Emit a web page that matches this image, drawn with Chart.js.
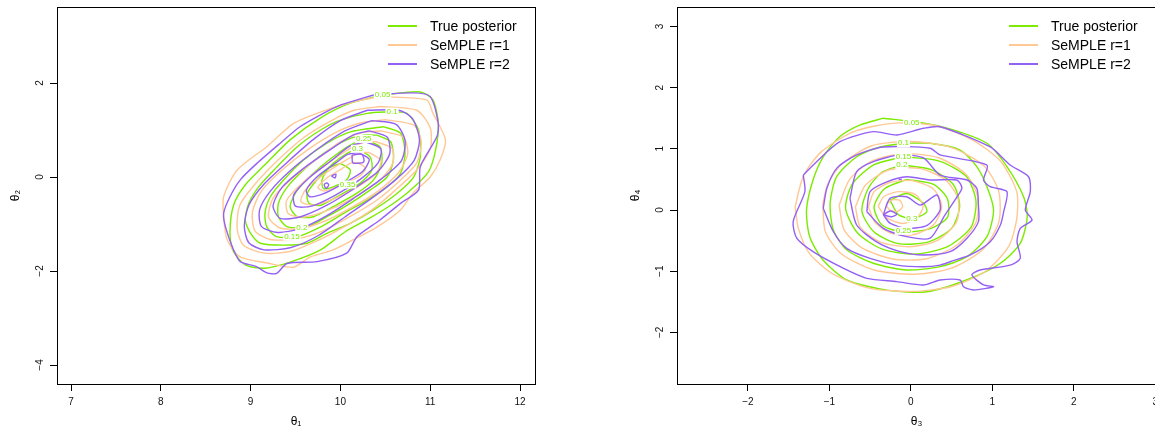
<!DOCTYPE html>
<html>
<head>
<meta charset="utf-8">
<script src="https://cdn.jsdelivr.net/npm/chart.js@4.4.1/dist/chart.umd.min.js"></script>
<style>
html, body { margin: 0; padding: 0; background: #fff; overflow: hidden; width: 1155px; height: 434px; }
.panel { position: absolute; top: 0; height: 434px; }
#left { left: 0; width: 577px; }
#right { left: 620px; width: 578px; }
</style>
</head>
<body>
<div class="panel" id="left"><canvas id="c1"></canvas></div>
<div class="panel" id="right"><canvas id="c2"></canvas></div>
<script>
// legend entries
const methodNames = ['True posterior', 'SeMPLE r=1', 'SeMPLE r=2'];
const methodColors = ['#7CEB00', '#FFC894', '#9461F5'];

// axis ticks
const leftXTicks = [7, 8, 9, 10, 11, 12];
const leftXLabels = ['7', '8', '9', '10', '11', '12'];
const leftYTicks = [-4, -2, 0, 2];
const leftYLabels = ['\u22124', '\u22122', '0', '2'];
const rightXTicks = [-2, -1, 0, 1, 2, 3];
const rightXLabels = ['\u22122', '\u22121', '0', '1', '2', '3'];
const rightYTicks = [-2, -1, 0, 1, 2, 3];
const rightYLabels = ['\u22122', '\u22121', '0', '1', '2', '3'];

// contour rings, flat [x, y, x, y, ...] lists, outer level first
const leftTrue = [
  [10.47,1.745, 10.89,1.81, 11.03,1.64, 11.09,1.15, 11.06,0.57, 10.98,0.11, 10.78,-0.28, 10.56,-0.60, 10.33,-0.87, 10.05,-1.17, 9.78,-1.55, 9.44,-1.81, 9.16,-1.94, 8.94,-1.87, 8.80,-1.55, 8.77,-1.17, 8.81,-0.60, 8.94,-0.17, 9.16,0.26, 9.44,0.79, 9.78,1.26, 10.11,1.57],
  [10.575,1.39, 10.74,1.355, 10.87,1.0, 10.89,0.43, 10.815,0.0, 10.63,-0.35, 10.37,-0.70, 10.11,-0.985, 9.85,-1.20, 9.63,-1.41, 9.37,-1.45, 9.11,-1.41, 9.0,-1.20, 8.94,-0.915, 8.98,-0.56, 9.09,-0.21, 9.26,0.15, 9.52,0.645, 9.78,1.0, 10.0,1.21, 10.30,1.355],
  [10.48,1.07, 10.67,0.93, 10.72,0.50, 10.67,0.08, 10.52,-0.21, 10.30,-0.49, 10.04,-0.77, 9.78,-1.06, 9.52,-1.27, 9.29,-1.27, 9.18,-1.06, 9.16,-0.77, 9.22,-0.42, 9.37,-0.06, 9.59,0.36, 9.85,0.72, 10.11,0.96],
  [10.41,0.89, 10.56,0.75, 10.59,0.36, 10.52,0.0, 10.33,-0.28, 10.11,-0.56, 9.85,-0.845, 9.63,-1.06, 9.41,-1.06, 9.31,-0.845, 9.31,-0.56, 9.41,-0.21, 9.59,0.15, 9.81,0.50, 10.07,0.79, 10.26,0.89],
  [10.26,0.80, 10.44,0.645, 10.46,0.29, 10.37,-0.06, 10.18,-0.35, 9.92,-0.63, 9.70,-0.845, 9.52,-0.845, 9.44,-0.63, 9.52,-0.28, 9.70,0.08, 9.92,0.43, 10.11,0.68],
  [10.185,0.60, 10.33,0.43, 10.35,0.15, 10.22,-0.13, 10.0,-0.38, 9.78,-0.60, 9.65,-0.56, 9.63,-0.35, 9.74,-0.06, 9.92,0.29, 10.07,0.50],
  [10.0,0.29, 10.11,0.15, 10.07,-0.06, 9.92,-0.21, 9.81,-0.24, 9.795,-0.06, 9.87,0.185]
];
const leftR1 = [
  [10.44,1.71, 10.96,1.64, 11.03,1.36, 11.17,0.79, 11.11,0.36, 11.0,0.0, 10.81,-0.34, 10.67,-0.70, 10.41,-1.06, 10.14,-1.34, 9.92,-1.55, 9.665,-1.70, 9.475,-1.92, 9.19,-1.83, 8.885,-1.70, 8.74,-1.34, 8.70,-0.85, 8.70,-0.42, 8.85,0.15, 9.18,0.645, 9.48,1.14, 9.85,1.43, 10.15,1.60],
  [10.45,1.5, 10.85,1.42, 11.0,1.05, 11.0,0.6, 10.85,0.15, 10.6,-0.3, 10.35,-0.7, 10.05,-1.05, 9.75,-1.35, 9.45,-1.58, 9.15,-1.62, 8.92,-1.45, 8.85,-1.1, 8.88,-0.6, 9.05,-0.15, 9.3,0.35, 9.6,0.85, 9.9,1.2, 10.15,1.42],
  [10.5,1.22, 10.82,1.1, 10.9,0.75, 10.85,0.3, 10.65,-0.1, 10.4,-0.5, 10.1,-0.85, 9.8,-1.15, 9.5,-1.32, 9.22,-1.33, 9.05,-1.15, 9.02,-0.75, 9.12,-0.3, 9.35,0.15, 9.65,0.6, 9.95,0.95, 10.22,1.15],
  [10.45,0.98, 10.7,0.85, 10.75,0.5, 10.65,0.1, 10.42,-0.3, 10.15,-0.62, 9.85,-0.92, 9.55,-1.1, 9.32,-1.08, 9.2,-0.85, 9.25,-0.45, 9.45,-0.05, 9.75,0.4, 10.0,0.75, 10.25,0.95],
  [10.4,0.75, 10.58,0.6, 10.58,0.28, 10.45,-0.05, 10.2,-0.38, 9.9,-0.68, 9.6,-0.85, 9.42,-0.78, 9.4,-0.5, 9.58,-0.12, 9.85,0.28, 10.1,0.6, 10.28,0.75],
  [10.32,0.52, 10.45,0.35, 10.4,0.08, 10.2,-0.2, 9.95,-0.45, 9.7,-0.6, 9.56,-0.52, 9.62,-0.25, 9.85,0.1, 10.08,0.38, 10.22,0.52],
  [10.2,0.3, 10.28,0.18, 10.2,0.0, 10.0,-0.18, 9.82,-0.3, 9.75,-0.22, 9.85,-0.02, 10.02,0.18, 10.12,0.3]
];
const leftR2 = [
  [10.37,1.745, 10.815,1.79, 11.0,1.71, 11.09,1.14, 11.075,0.86, 10.89,0.22, 10.87,-0.28, 10.67,-0.56, 10.44,-0.915, 10.185,-1.27, 10.07,-1.62, 9.74,-1.80, 9.405,-1.84, 9.29,-2.05, 9.18,-2.04, 9.07,-1.91, 8.885,-1.80, 8.81,-1.55, 8.72,-1.06, 8.70,-0.77, 8.77,-0.42, 8.885,-0.06, 9.07,0.29, 9.33,0.72, 9.55,1.07, 9.81,1.355, 10.0,1.53, 10.185,1.64],
  [10.3,1.42, 10.65,1.42, 10.8,1.25, 10.88,0.8, 10.82,0.35, 10.62,-0.05, 10.35,-0.45, 10.05,-0.85, 9.75,-1.25, 9.45,-1.5, 9.15,-1.55, 8.98,-1.4, 8.93,-1.05, 8.98,-0.6, 9.15,-0.15, 9.4,0.3, 9.7,0.8, 10.0,1.2],
  [10.35,1.2, 10.62,1.12, 10.72,0.78, 10.68,0.35, 10.45,-0.05, 10.15,-0.45, 9.85,-0.82, 9.55,-1.1, 9.3,-1.18, 9.12,-1.05, 9.1,-0.7, 9.22,-0.3, 9.45,0.15, 9.75,0.6, 10.05,0.98],
  [10.32,0.98, 10.52,0.85, 10.55,0.5, 10.42,0.12, 10.15,-0.25, 9.85,-0.6, 9.55,-0.85, 9.33,-0.88, 9.25,-0.62, 9.35,-0.22, 9.6,0.2, 9.9,0.6, 10.15,0.9],
  [10.28,0.75, 10.45,0.6, 10.42,0.3, 10.22,-0.05, 9.95,-0.38, 9.68,-0.62, 9.5,-0.62, 9.48,-0.38, 9.65,-0.02, 9.9,0.35, 10.1,0.65],
  [10.2,0.52, 10.32,0.38, 10.25,0.12, 10.05,-0.12, 9.82,-0.35, 9.66,-0.42, 9.62,-0.28, 9.75,0.02, 9.95,0.3, 10.08,0.48],
  [10.13,0.47, 10.24,0.48, 10.26,0.32, 10.14,0.3],
  [9.9,0.02, 9.95,0.06, 9.94,-0.02],
  [9.85,-0.12, 9.87,-0.17, 9.84,-0.24, 9.82,-0.16]
];

const rightTrue = [
  [-0.337,1.50, 0.114,1.43, 0.52,1.31, 0.935,1.09, 1.18,0.71, 1.385,0.217, 1.43,-0.11, 1.345,-0.54, 1.10,-0.87, 0.69,-1.14, 0.197,-1.335, -0.295,-1.31, -0.787,-1.14, -1.075,-0.82, -1.24,-0.44, -1.28,0.0, -1.20,0.49, -1.075,0.87, -0.87,1.20, -0.62,1.39],
  [-0.09,1.09, 0.237,1.09, 0.606,0.98, 0.81,0.71, 0.935,0.38, 1.016,0.0, 0.935,-0.436, 0.69,-0.763, 0.36,-0.926, -0.05,-0.98, -0.46,-0.87, -0.787,-0.65, -0.95,-0.327, -0.99,0.11, -0.91,0.544, -0.664,0.87, -0.377,1.03],
  [-0.09,0.87, 0.35,0.8, 0.68,0.55, 0.8,0.15, 0.74,-0.28, 0.45,-0.6, 0.05,-0.72, -0.35,-0.64, -0.65,-0.38, -0.8,0.02, -0.72,0.42, -0.45,0.74],
  [-0.11,0.735, 0.25,0.66, 0.52,0.42, 0.6,0.06, 0.5,-0.3, 0.22,-0.52, -0.15,-0.55, -0.45,-0.36, -0.6,-0.02, -0.52,0.36, -0.35,0.62],
  [-0.05,0.5, 0.28,0.42, 0.45,0.18, 0.45,-0.12, 0.25,-0.3, -0.09,-0.36, -0.35,-0.25, -0.45,0.05, -0.32,0.35],
  [-0.255,0.163, -0.05,0.27, 0.155,0.11, 0.197,-0.03, 0.03,-0.136, -0.15,-0.08]
];
const rightR1 = [
  [-1.42,0.05, -1.32,0.55, -1.1,0.95, -0.7,1.28, -0.2,1.42, 0.3,1.38, 0.75,1.15, 1.1,0.8, 1.3,0.3, 1.3,-0.15, 1.2,-0.6, 0.92,-1.0, 0.5,-1.25, 0.03,-1.33, -0.5,-1.28, -0.95,-1.05, -1.25,-0.7, -1.38,-0.3],
  [-1.08,0.1, -1.02,0.42, -0.85,0.75, -0.48,1.05, 0.0,1.12, 0.5,1.02, 0.9,0.72, 1.08,0.3, 1.08,-0.2, 0.88,-0.65, 0.5,-0.95, 0.05,-1.05, -0.45,-0.98, -0.85,-0.72, -1.05,-0.35],
  [-0.88,0.08, -0.75,0.5, -0.48,0.8, -0.08,0.92, 0.35,0.85, 0.68,0.58, 0.82,0.22, 0.8,-0.2, 0.56,-0.58, 0.18,-0.8, -0.22,-0.8, -0.6,-0.62, -0.82,-0.32],
  [-0.68,0.05, -0.56,0.4, -0.28,0.65, 0.1,0.68, 0.42,0.5, 0.58,0.18, 0.56,-0.2, 0.32,-0.5, -0.02,-0.6, -0.38,-0.52, -0.62,-0.28],
  [-0.52,0.05, -0.45,0.3, -0.26,0.45, 0.02,0.48, 0.28,0.34, 0.38,0.06, 0.28,-0.24, 0.04,-0.4, -0.24,-0.38, -0.44,-0.2],
  [-0.4,0.06, -0.33,0.22, -0.15,0.3, 0.06,0.25, 0.15,0.06, 0.08,-0.12, -0.1,-0.22, -0.3,-0.12],
  [-0.3,0.08, -0.24,0.16, -0.14,0.16, -0.1,0.06, -0.16,-0.02, -0.26,0.0]
];
const rightR2 = [
  [-1.32,0.57, -1.156,0.79, -0.87,1.116, -0.46,1.28, -0.17,1.225, 0.155,1.335, 0.36,1.36, 0.975,1.03, 1.22,0.735, 1.445,0.544, 1.467,0.30, 1.406,0.0, 1.488,-0.163, 1.344,-0.30, 1.304,-0.518, 1.344,-0.79, 1.22,-0.90, 0.852,-0.98, 0.75,-1.06, 0.893,-1.225, 1.016,-1.253, 0.77,-1.307, 0.647,-1.253, 0.606,-1.144, 0.36,-1.144, 0.155,-1.225, -0.17,-1.17, -0.54,-1.116, -0.83,-0.95, -1.20,-0.68, -1.40,-0.46, -1.444,-0.19, -1.30,0.30],
  [-1.075,0.028, -1.03,0.355, -0.91,0.68, -0.664,0.90, -0.337,1.03, 0.237,1.01, 0.36,0.90, 0.935,0.735, 0.893,0.49, 0.975,0.38, 1.18,0.30, 1.14,-0.028, 1.10,-0.245, 0.975,-0.518, 0.73,-0.735, 0.483,-0.845, 0.36,-0.90, 0.155,-0.926, -0.17,-0.90, -0.50,-0.79, -0.787,-0.626, -0.95,-0.355],
  [-0.747,0.19, -0.664,0.626, -0.46,0.79, -0.13,0.90, 0.155,0.85, 0.36,0.57, 0.69,0.49, 0.81,0.355, 0.83,0.08, 0.83,-0.19, 0.69,-0.46, 0.483,-0.68, 0.155,-0.735, -0.13,-0.68, -0.42,-0.52, -0.664,-0.245],
  [-0.54,-0.028, -0.50,0.30, -0.295,0.46, -0.05,0.544, 0.237,0.49, 0.565,0.49, 0.627,0.36, 0.565,0.21, 0.42,-0.08, 0.237,-0.46, -0.05,-0.436, -0.337,-0.30],
  [-0.337,-0.08, -0.255,0.19, -0.05,0.217, 0.114,0.08, 0.32,0.245, 0.36,0.0, 0.2,-0.25, -0.05,-0.3, -0.25,-0.22],
  [-0.337,-0.08, -0.255,-0.016, -0.17,-0.07, -0.234,-0.11],
  [-0.15,0.50, -0.11,0.50]
];

// contour level labels of the true posterior
const leftLabelText = ['0.05', '0.1', '0.15', '0.2', '0.25', '0.3', '0.35'];
const leftLabelX = [10.47, 10.575, 9.46, 9.57, 10.26, 10.19, 10.08];
const leftLabelY = [1.745, 1.39, -1.27, -1.08, 0.81, 0.60, -0.16];
const rightLabelText = ['0.05', '0.1', '0.15', '0.2', '0.3', '0.25'];
const rightLabelX = [0.012, -0.09, -0.09, -0.11, 0.012, -0.09];
const rightLabelY = [1.43, 1.09, 0.87, 0.735, -0.136, -0.34];

const FONT = '"Liberation Sans", Arial, sans-serif';

function ringSets(rings, m, order) {
  return rings.map(r => {
    const pts = [];
    for (let k = 0; k < r.length; k += 2) pts.push({x: r[k], y: r[k + 1]});
    pts.push({x: r[0], y: r[1]});
    return {
      label: methodNames[m], data: pts, showLine: true, order: order,
      borderColor: methodColors[m], borderWidth: 1.4, pointRadius: 0, tension: 0.25, fill: false
    };
  });
}

const decor = {
  id: 'decor',
  afterDatasetsDraw(chart, args, opts) {
    const {ctx, chartArea: a} = chart;
    const sx = chart.scales.x, sy = chart.scales.y;
    ctx.save();
    // contour labels
    ctx.font = '8px ' + FONT;
    ctx.textAlign = 'center';
    ctx.textBaseline = 'middle';
    opts.text.forEach((t, i) => {
      const px = sx.getPixelForValue(opts.lx[i]);
      const py = sy.getPixelForValue(opts.ly[i]);
      const w = ctx.measureText(t).width;
      ctx.fillStyle = '#fff';
      ctx.fillRect(px - w / 2 - 1, py - 4, w + 2, 8);
      ctx.fillStyle = methodColors[0];
      ctx.fillText(t, px, py);
    });
    // box
    ctx.strokeStyle = '#000';
    ctx.lineWidth = 1;
    ctx.strokeRect(Math.round(a.left) + 0.5, Math.round(a.top) + 0.5, Math.round(a.width), Math.round(a.height));
    // legend, top right inside the box
    ctx.font = '14px ' + FONT;
    ctx.textAlign = 'left';
    methodNames.forEach((n, i) => {
      const ly = a.top + 19 + i * 19;
      ctx.strokeStyle = methodColors[i];
      ctx.lineWidth = 2;
      ctx.beginPath();
      ctx.moveTo(a.right - 147, ly);
      ctx.lineTo(a.right - 118, ly);
      ctx.stroke();
      ctx.fillStyle = '#000';
      ctx.fillText(n, a.right - 105, ly + 1);
    });
    ctx.restore();
  }
};

function axes(xr, yr, xt, xl, yt, yl, xTitle, yTitle) {
  const tickFont = {size: 10, family: FONT};
  return {
    x: {
      type: 'linear', min: xr[0], max: xr[1],
      afterBuildTicks: s => { s.ticks = xt.map(v => ({value: v})); },
      afterFit: s => { s.height = 50; s.paddingLeft = 0; s.paddingRight = 0; },
      grid: {drawOnChartArea: false, drawTicks: true, tickLength: 7, color: '#000'},
      border: {display: false},
      ticks: {callback: (v, i) => xl[i], font: tickFont, color: '#111', padding: 5, maxRotation: 0, autoSkip: false},
      title: {display: true, text: xTitle, font: {size: 12, family: FONT}, color: '#000', padding: {top: 0, bottom: 5}}
    },
    y: {
      type: 'linear', min: yr[0], max: yr[1],
      afterBuildTicks: s => { s.ticks = yt.map(v => ({value: v})); },
      afterFit: s => { s.width = 57; s.paddingTop = 0; s.paddingBottom = 0; },
      grid: {drawOnChartArea: false, drawTicks: true, tickLength: 7, color: '#000'},
      border: {display: false},
      ticks: {callback: (v, i) => yl[i], font: tickFont, color: '#111', padding: 4,
        minRotation: 90, maxRotation: 90, crossAlign: 'center', autoSkip: false},
      title: {display: true, text: yTitle, font: {size: 12, family: FONT}, color: '#000', padding: {top: 8, bottom: 0}}
    }
  };
}

function makeChart(id, sets, scales, lab) {
  return new Chart(document.getElementById(id), {
    type: 'scatter',
    data: {datasets: sets},
    options: {
      responsive: true, maintainAspectRatio: false, animation: false, devicePixelRatio: 1,
      layout: {padding: {top: 7, right: 42, bottom: 0, left: 0}},
      plugins: {legend: {display: false}, tooltip: {enabled: false}, decor: lab},
      scales: scales
    },
    plugins: [decor]
  });
}

makeChart('c1',
  [...ringSets(leftR2, 2, 0), ...ringSets(leftR1, 1, 1), ...ringSets(leftTrue, 0, 2)],
  axes([6.844, 12.167], [-4.404, 3.617], leftXTicks, leftXLabels, leftYTicks, leftYLabels, '\u03b8\u2081', '\u03b8\u2082'),
  {text: leftLabelText, lx: leftLabelX, ly: leftLabelY});

makeChart('c2',
  [...ringSets(rightR2, 2, 0), ...ringSets(rightR1, 1, 1), ...ringSets(rightTrue, 0, 2)],
  axes([-2.87, 3.01], [-2.843, 3.317], rightXTicks, rightXLabels, rightYTicks, rightYLabels, '\u03b8\u2083', '\u03b8\u2084'),
  {text: rightLabelText, lx: rightLabelX, ly: rightLabelY});
</script>
</body>
</html>
